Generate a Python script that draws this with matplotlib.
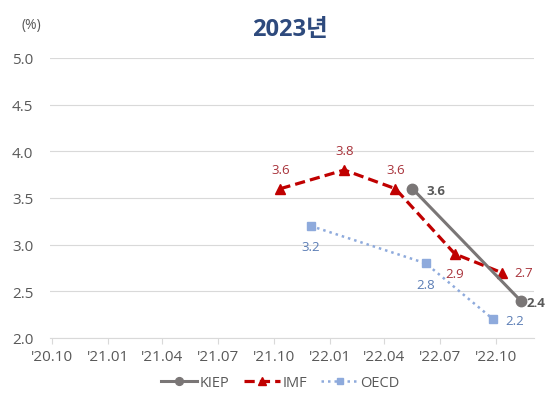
import numpy as np
import pandas as pd
import matplotlib
matplotlib.use("Agg")
import matplotlib.pyplot as plt
import matplotlib.dates as mdates

plt.rcParams['font.family'] = ['Open Sans', 'Noto Sans CJK KR', 'DejaVu Sans']

# release dates and 2023 growth forecasts (%)
kiep_dates = pd.to_datetime(['2022-05-17', '2022-11-11'])
kiep_vals = [3.6, 2.4]
imf_dates = pd.to_datetime(['2021-10-12', '2022-01-25', '2022-04-19', '2022-07-26', '2022-10-11'])
imf_vals = [3.6, 3.8, 3.6, 2.9, 2.7]
oecd_dates = pd.to_datetime(['2021-12-01', '2022-06-08', '2022-09-27'])
oecd_vals = [3.2, 2.8, 2.2]

tick_dates = pd.date_range('2020-10-01', '2022-10-01', freq='3MS')
yticks = [2.0, 2.5, 3.0, 3.5, 4.0, 4.5, 5.0]

c_kiep = '#7a7676'
c_imf = '#c00000'
c_oecd = '#8eaadc'
c_txt = '#595959'

fig = plt.figure(figsize=(5.6, 4.14), dpi=100)
ax = fig.add_axes([50 / 560, 1 - 339 / 414, 484 / 560, 280 / 414])

ax.plot(kiep_dates, kiep_vals, color=c_kiep, lw=2.2, marker='o', ms=7.5, label='KIEP', zorder=4)
ax.plot(imf_dates, imf_vals, color=c_imf, lw=2.3, ls=(0, (3.2, 1.6)), marker='^', ms=7.5, label='IMF', zorder=3)
ax.plot(oecd_dates, oecd_vals, color=c_oecd, lw=1.8, ls=(0, (1, 1.6)), marker='s', ms=6, label='OECD', zorder=2)

# data labels
imf_off = [(0, 14), (0, 14), (0, 14), (0, -14), (9, 0)]
for d, v, (dx, dy) in zip(imf_dates, imf_vals, imf_off):
    ax.annotate(f'{v:.1f}', (d, v), xytext=(dx, dy), textcoords='offset points',
                ha='center' if dx == 0 else 'left', va='center', fontsize=9.5, color='#a8323a')
oecd_off = [(0, -15), (0, -15), (9, -1)]
for d, v, (dx, dy) in zip(oecd_dates, oecd_vals, oecd_off):
    ax.annotate(f'{v:.1f}', (d, v), xytext=(dx, dy), textcoords='offset points',
                ha='center' if dx == 0 else 'left', va='center', fontsize=9.5, color='#5b7db5')
kiep_off = [(10, -1), (4, -1)]
for d, v, (dx, dy) in zip(kiep_dates, kiep_vals, kiep_off):
    ax.annotate(f'{v:.1f}', (d, v), xytext=(dx, dy), textcoords='offset points',
                ha='left', va='center', fontsize=9.5, color=c_txt, fontweight='bold', zorder=5)

ax.set_xlim(pd.Timestamp('2020-09-28'), pd.Timestamp('2022-12-03'))
ax.set_ylim(2.0, 5.0)
ax.set_yticks(yticks)
ax.set_yticklabels([f'{t:.1f}' for t in yticks])
ax.set_xticks(tick_dates)
ax.xaxis.set_major_formatter(mdates.DateFormatter("'%y.%m"))

ax.grid(axis='y', color='#d9d9d9', lw=0.8)
ax.set_axisbelow(True)
for s in ['top', 'right', 'left']:
    ax.spines[s].set_visible(False)
ax.spines['bottom'].set_color('#d9d9d9')
ax.tick_params(axis='y', length=0, pad=12, labelsize=11, labelcolor=c_txt)
ax.tick_params(axis='x', length=4, color='#d9d9d9', pad=4, labelsize=11, labelcolor=c_txt)

fig.text(0.518, 1 - 30 / 414, '2023년', ha='center', va='center', fontsize=17,
         fontweight='bold', color='#2e4a7d')
fig.text(31 / 560, 1 - 26 / 414, '(%)', ha='center', va='center', fontsize=10, color=c_txt)

leg = fig.legend(loc='center', bbox_to_anchor=(0.5, 1 - 384 / 414), ncol=3, frameon=False,
                 fontsize=10.5, handlelength=2.5, columnspacing=1.0, handletextpad=0.15,
                 markerscale=0.75)
for t in leg.get_texts():
    t.set_color(c_txt)

fig.savefig('out.png', dpi=100)
